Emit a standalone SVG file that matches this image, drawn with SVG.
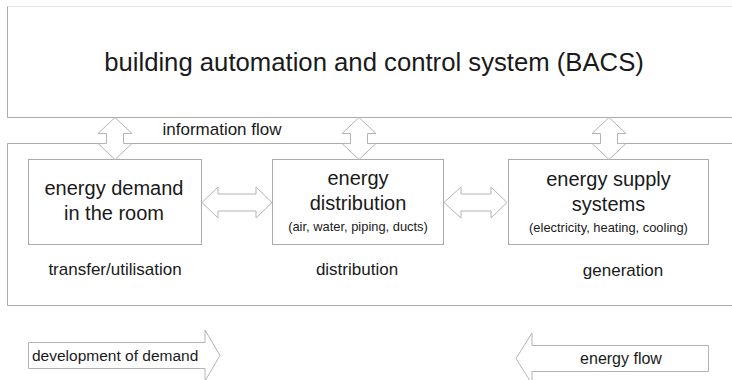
<svg xmlns="http://www.w3.org/2000/svg" width="732" height="380" viewBox="0 0 732 380">
<style>
.ln{fill:none;stroke:#ababab;stroke-width:1}
.bx{fill:#fff;stroke:#ababab;stroke-width:1}
.ar{fill:#fff;stroke:#b4b4b4;stroke-width:1;stroke-linejoin:miter}
text{font-family:"Liberation Sans",Arial,sans-serif;fill:#1a1a1a;text-anchor:middle}
.t1{font-size:25.7px}
.t2{font-size:20px}
.t3{font-size:12.9px}
.t4{font-size:17px}
.t5{font-size:15.5px;text-anchor:start}
</style>
<rect width="732" height="380" fill="#fff"/>
<g id="bacs">
<line x1="7" y1="6.5" x2="732" y2="6.5" stroke="#e6e6e6" stroke-width="1"/>
<path class="ln" d="M7.5,6.5 V117.5 H732"/>
<text class="t1" x="374" y="71">building automation and control system (BACS)</text>
</g>
<g id="container">
<path class="ln" d="M732,143.5 H7.5 V305.5 H732"/>
<text class="t4" x="222" y="135">information flow</text>
<text class="t4" x="115" y="275">transfer/utilisation</text>
<text class="t4" x="357" y="275">distribution</text>
<text class="t4" x="623" y="276">generation</text>
</g>
<g id="demand">
<rect class="bx" x="28.5" y="159.5" width="173" height="85"/>
<text class="t2" x="114" y="195">energy demand</text>
<text class="t2" x="114" y="220">in the room</text>
</g>
<g id="distribution">
<rect class="bx" x="272.5" y="159.5" width="171" height="85"/>
<text class="t2" x="358" y="185">energy</text>
<text class="t2" x="358" y="210">distribution</text>
<text class="t3" x="358" y="231">(air, water, piping, ducts)</text>
</g>
<g id="supply">
<rect class="bx" x="508.5" y="159.5" width="200" height="85"/>
<text class="t2" x="608.5" y="186">energy supply</text>
<text class="t2" x="608.5" y="211">systems</text>
<text class="t3" x="608.5" y="232">(electricity, heating, cooling)</text>
</g>
<g id="connectors">
<path class="ar" d="M115,117.5 L132,133.5 H123.5 V143.5 H132 L115,159.5 L98,143.5 H106.5 V133.5 H98 Z"/>
<path class="ar" d="M359,117.5 L376,133.5 H367.5 V143.5 H376 L359,159.5 L342,143.5 H350.5 V133.5 H342 Z"/>
<path class="ar" d="M609,117.5 L626,133.5 H617.5 V143.5 H626 L609,159.5 L592,143.5 H600.5 V133.5 H592 Z"/>
<path class="ar" d="M202,202.5 L218,187 V194 H256 V187 L272,202.5 L256,218 V211 H218 V218 Z"/>
<path class="ar" d="M444,202.5 L461,187 V194 H491 V187 L507,202.5 L491,218 V211 H461 V218 Z"/>
</g>
<g id="development">
<path class="ar" d="M28.5,342.5 H205 V330 L220,355.5 L205,381 V368.5 H28.5 Z"/>
<text class="t5" x="32" y="361">development of demand</text>
</g>
<g id="energyflow">
<path class="ar" d="M708.5,345.5 H532 V333 L516,358.5 L532,384 V371.5 H708.5 Z"/>
<text class="t4" x="621" y="364" style="font-size:16px">energy flow</text>
</g>
</svg>
